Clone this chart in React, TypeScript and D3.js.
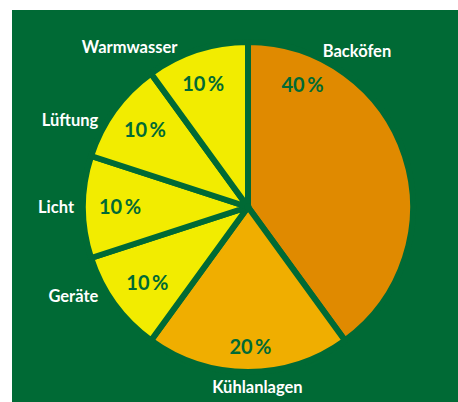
import React from "react";
import { pie, arc } from "d3";

// share of energy use per consumer (percent)
const categories = ["Backöfen", "Kühlanlagen", "Geräte", "Licht", "Lüftung", "Warmwasser"];
const shares = [40, 20, 10, 10, 10, 10];
const sliceColors = ["#e08a00", "#f0ae00", "#f2ec00", "#f2ec00", "#f2ec00", "#f2ec00"];

// hand placed annotation positions: [angle in degrees from top, radius]
const nameSpots = [
  [35, 190],
  [177, 180],
  [243, 196],
  [270, 192],
  [296, 198],
  [323.5, 199],
];
const pctSpots = [
  [24, 134],
  [179, 140],
  [233, 126],
  [270, 128],
  [307, 129],
  [340, 131],
];

const W = 458;
const H = 402;
const cx = 248;
const cy = 207;
const R = 165;
const green = "#006a35";

function polar(deg: number, r: number) {
  const a = (deg * Math.PI) / 180;
  return [cx + r * Math.sin(a), cy - r * Math.cos(a)];
}

export default function App() {
  const slices = pie<number>().sort(null).value((d) => d)(shares);
  const arcGen = arc<any>().innerRadius(0).outerRadius(R);

  return (
    <svg
      width={W}
      height={H}
      style={{ position: "absolute", left: 0, top: 0 }}
      fontFamily="Lato, 'Open Sans', sans-serif"
      fontWeight="bold"
    >
      <rect x={0} y={0} width={W} height={H} fill="#fff" />
      <rect x={12} y={10} width={W - 12} height={H - 10} fill={green} />
      <g transform={`translate(${cx},${cy})`}>
        {slices.map((s, i) => (
          <path
            key={categories[i]}
            d={arcGen(s) || ""}
            fill={sliceColors[i]}
            stroke={green}
            strokeWidth={6}
            strokeLinejoin="bevel"
          />
        ))}
        <circle r={3.5} fill={green} />
      </g>
      {categories.map((c, i) => {
        const [x, y] = polar(nameSpots[i][0], nameSpots[i][1]);
        return (
          <text
            key={"n" + c}
            x={x}
            y={y}
            dy="0.35em"
            textAnchor="middle"
            fill="#fff"
            fontSize={16.5}
          >
            {c}
          </text>
        );
      })}
      {shares.map((v, i) => {
        const [x, y] = polar(pctSpots[i][0], pctSpots[i][1]);
        return (
          <text
            key={"p" + i}
            x={x}
            y={y}
            dy="0.36em"
            textAnchor="middle"
            fill={green}
            fontSize={20}
            style={{ whiteSpace: "pre" }}
          >
            {`${v}\u2009%`}
          </text>
        );
      })}
    </svg>
  );
}
